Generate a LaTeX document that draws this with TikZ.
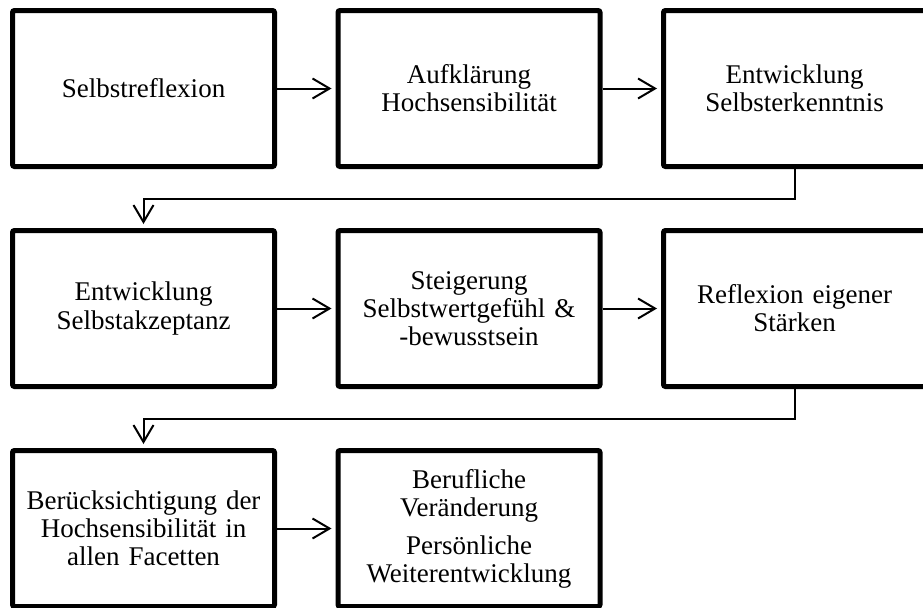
\documentclass[tikz,border=0pt]{standalone}
\usepackage{fontspec}
\setmainfont{Liberation Serif}
\usetikzlibrary{arrows.meta}
\begin{document}
\begin{tikzpicture}[x=0.75pt,y=-0.75pt,
  box/.style={draw, line width=3.75pt, rounded corners=1.5pt, minimum width=196.5pt,
    minimum height=117pt, align=center, text width=192pt, inner sep=0pt,
    font=\fontsize{20.25}{21}\selectfont},
  conn/.style={line width=1.5pt, -{Straight Barb[length=12.75pt,width=15pt]}, shorten >=3pt}]
\useasboundingbox (0,0) rectangle (923,607);
\fill[white] (0,0) rectangle (923,607);
\node[box] (a) at (143.5,88.5) {Selbstreflexion};
\node[box] (b) at (469,88.5) {Aufklärung\\Hochsensibilität};
\node[box] (c) at (794.5,88.5) {Entwicklung\\Selbsterkenntnis};
\node[box] (d) at (143.5,308.5) {Entwicklung\\Selbstakzeptanz};
\node[box] (e) at (469,308.5) {Steigerung\\Selbstwertgefühl \&\\-bewusstsein};
\node[box] (f) at (794.5,308.5) {Reflexion eigener\\Stärken};
\node[box] (g) at (143.5,528.5) {Berücksichtigung der\\Hochsensibilität in\\allen Facetten};
\node[box] (h) at (469,528.5) {Berufliche\\Veränderung\\[7.5pt]Persönliche\\Weiterentwicklung};
\draw[conn] (a) -- (b);
\draw[conn] (b) -- (c);
\draw[conn] (c.south) -- ++(0,29.5) -| (d.north);
\draw[conn] (d) -- (e);
\draw[conn] (e) -- (f);
\draw[conn] (f.south) -- ++(0,29.5) -| (g.north);
\draw[conn] (g) -- (h);
\end{tikzpicture}
\end{document}
